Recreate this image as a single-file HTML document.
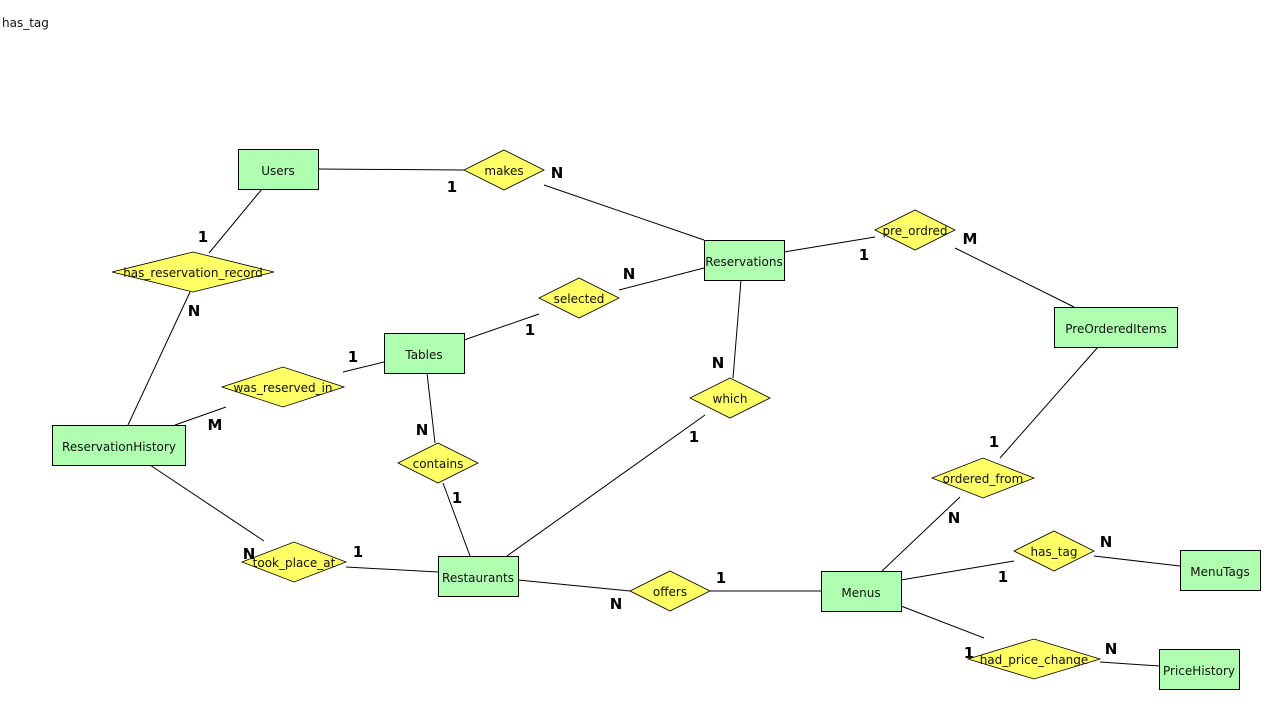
<!DOCTYPE html>
<html><head><meta charset="utf-8"><style>
html,body{margin:0;padding:0;background:#fff;}
svg{display:block;}
text{font-family:"DejaVu Sans","Liberation Sans",sans-serif;}
.e{fill:#b0ffb0;stroke:#000;stroke-width:1;}
.d{fill:#ffff66;stroke:#000;stroke-width:0.8;}
.t{font-size:12px;fill:#111;text-anchor:middle;dominant-baseline:central;}
.c{font-size:15px;font-weight:bold;fill:#000;text-anchor:middle;dominant-baseline:central;}
line{stroke:#000;stroke-width:1;}
</style></head><body>
<svg width="1281" height="710" viewBox="0 0 1281 710" xmlns="http://www.w3.org/2000/svg">
<text x="2" y="27" style="font-size:12px;fill:#111">has_tag</text>
<line x1="318" y1="169" x2="464" y2="170"/>
<line x1="544" y1="185" x2="704" y2="240"/>
<line x1="262" y1="189" x2="209" y2="253"/>
<line x1="190" y1="292" x2="128" y2="425"/>
<line x1="784" y1="252" x2="875" y2="237"/>
<line x1="955" y1="248" x2="1074" y2="307"/>
<line x1="1098" y1="347" x2="1000" y2="458"/>
<line x1="704" y1="268" x2="619" y2="290"/>
<line x1="539" y1="314" x2="464" y2="340"/>
<line x1="384" y1="362" x2="343" y2="372"/>
<line x1="226" y1="407" x2="175" y2="425"/>
<line x1="741" y1="280" x2="733" y2="378"/>
<line x1="705" y1="415" x2="507" y2="556"/>
<line x1="427" y1="373" x2="435" y2="443"/>
<line x1="443" y1="483" x2="470" y2="556"/>
<line x1="150" y1="465" x2="264" y2="541"/>
<line x1="346" y1="567" x2="438" y2="572"/>
<line x1="518" y1="580" x2="630" y2="591"/>
<line x1="710" y1="591" x2="821" y2="591"/>
<line x1="960" y1="497" x2="882" y2="571"/>
<line x1="901" y1="580" x2="1014" y2="561"/>
<line x1="1094" y1="556" x2="1180" y2="566"/>
<line x1="901" y1="606" x2="984" y2="638"/>
<line x1="1100" y1="662" x2="1159" y2="666"/>
<rect class="e" x="238.5" y="149.5" width="80" height="40"/><text class="t" x="278" y="171">Users</text>
<rect class="e" x="704.5" y="240.5" width="80" height="40"/><text class="t" x="744" y="262">Reservations</text>
<rect class="e" x="1054.5" y="307.5" width="123" height="40"/><text class="t" x="1116" y="329">PreOrderedItems</text>
<rect class="e" x="384.5" y="333.5" width="80" height="40"/><text class="t" x="424" y="355">Tables</text>
<rect class="e" x="52.5" y="425.5" width="133" height="40"/><text class="t" x="119" y="447">ReservationHistory</text>
<rect class="e" x="438.5" y="556.5" width="80" height="40"/><text class="t" x="478" y="578">Restaurants</text>
<rect class="e" x="821.5" y="571.5" width="80" height="40"/><text class="t" x="861" y="593">Menus</text>
<rect class="e" x="1180.5" y="550.5" width="80" height="40"/><text class="t" x="1220" y="572">MenuTags</text>
<rect class="e" x="1159.5" y="649.5" width="80" height="40"/><text class="t" x="1199" y="671">PriceHistory</text>
<polygon class="d" points="464,170 504,150 544,170 504,190"/><text class="t" x="504" y="171">makes</text>
<polygon class="d" points="112,272 193,252 274,272 193,292"/><text class="t" x="193" y="273">has_reservation_record</text>
<polygon class="d" points="875,230 915,210 955,230 915,250"/><text class="t" x="915" y="231">pre_ordred</text>
<polygon class="d" points="539,298 579,278 619,298 579,318"/><text class="t" x="579" y="299">selected</text>
<polygon class="d" points="222,387 283,367 344,387 283,407"/><text class="t" x="283" y="388">was_reserved_in</text>
<polygon class="d" points="690,398 730,378 770,398 730,418"/><text class="t" x="730" y="399">which</text>
<polygon class="d" points="398,463 438,443 478,463 438,483"/><text class="t" x="438" y="464">contains</text>
<polygon class="d" points="932,478 983,458 1034,478 983,498"/><text class="t" x="983" y="479">ordered_from</text>
<polygon class="d" points="242,562 294,542 346,562 294,582"/><text class="t" x="294" y="563">took_place_at</text>
<polygon class="d" points="630,591 670,571 710,591 670,611"/><text class="t" x="670" y="592">offers</text>
<polygon class="d" points="1014,551 1054,531 1094,551 1054,571"/><text class="t" x="1054" y="552">has_tag</text>
<polygon class="d" points="968,659 1034,639 1100,659 1034,679"/><text class="t" x="1034" y="660">had_price_change</text>
<text class="c" x="557" y="173">N</text>
<text class="c" x="452" y="187">1</text>
<text class="c" x="203" y="237">1</text>
<text class="c" x="194" y="311">N</text>
<text class="c" x="970" y="239">M</text>
<text class="c" x="864" y="255">1</text>
<text class="c" x="629" y="274">N</text>
<text class="c" x="530" y="330">1</text>
<text class="c" x="353" y="357">1</text>
<text class="c" x="215" y="425">M</text>
<text class="c" x="718" y="363">N</text>
<text class="c" x="694" y="437">1</text>
<text class="c" x="422" y="430">N</text>
<text class="c" x="457" y="498">1</text>
<text class="c" x="994" y="442">1</text>
<text class="c" x="954" y="518">N</text>
<text class="c" x="1106" y="542">N</text>
<text class="c" x="1003" y="577">1</text>
<text class="c" x="249" y="554">N</text>
<text class="c" x="358" y="552">1</text>
<text class="c" x="616" y="604">N</text>
<text class="c" x="721" y="578">1</text>
<text class="c" x="969" y="653">1</text>
<text class="c" x="1111" y="649">N</text>
</svg>
</body></html>
